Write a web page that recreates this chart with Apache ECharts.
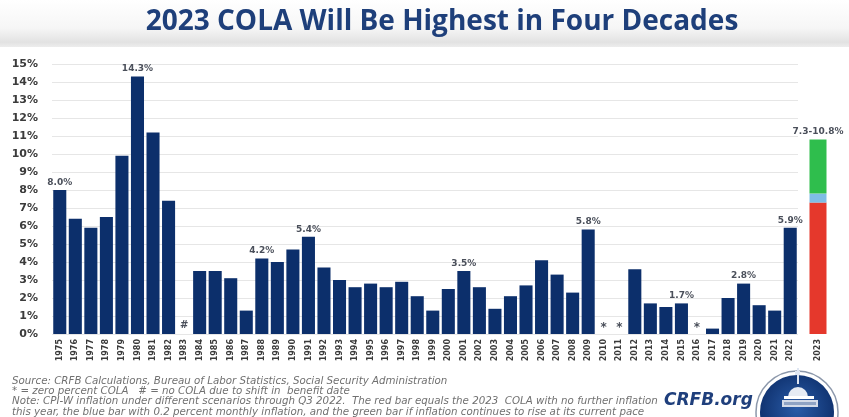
<!DOCTYPE html>
<html>
<head>
<meta charset="utf-8">
<script src="https://cdn.jsdelivr.net/npm/echarts@6/dist/echarts.min.js"></script>
<style>
  html, body { margin: 0; padding: 0; background: #fff; }
  #chart { width: 849px; height: 417px; }
</style>
</head>
<body>
<div id="chart"></div>
<script>
// Social Security cost-of-living adjustments, 1975-2022 (percent)
const years = [
  1975, 1976, 1977, 1978, 1979, 1980, 1981, 1982, 1983, 1984, 1985, 1986,
  1987, 1988, 1989, 1990, 1991, 1992, 1993, 1994, 1995, 1996, 1997, 1998,
  1999, 2000, 2001, 2002, 2003, 2004, 2005, 2006, 2007, 2008, 2009, 2010,
  2011, 2012, 2013, 2014, 2015, 2016, 2017, 2018, 2019, 2020, 2021, 2022
];
const cola = [
  8.0, 6.4, 5.9, 6.5, 9.9, 14.3, 11.2, 7.4, 0, 3.5, 3.5, 3.1,
  1.3, 4.2, 4.0, 4.7, 5.4, 3.7, 3.0, 2.6, 2.8, 2.6, 2.9, 2.1,
  1.3, 2.5, 3.5, 2.6, 1.4, 2.1, 2.7, 4.1, 3.3, 2.3, 5.8, 0,
  0, 3.6, 1.7, 1.5, 1.7, 0, 0.3, 2.0, 2.8, 1.6, 1.3, 5.9
];
// Years whose value is printed above the bar
const labelledYears = [1975, 1980, 1988, 1991, 2001, 2009, 2015, 2019, 2022];
// "#" = no COLA due to shift in benefit date, "*" = zero percent COLA
const noColaYears = [1983];
const zeroColaYears = [2010, 2011, 2016];

// 2023 projection: no further inflation / 0.2% monthly / current pace
const year2023 = ['2023'];
const cola2023Low = 7.3;
const cola2023Mid = 7.8;
const cola2023High = 10.8;

const yTicks = { min: 0, max: 15, step: 1 };

const NAVY = '#0c2f6b';
const LABEL_GREY = '#4a4f5a';

const colaData = years.map((yr, i) => {
  const item = { value: cola[i] };
  if (labelledYears.includes(yr)) {
    item.label = { show: true, formatter: cola[i].toFixed(1) + '%' };
  } else if (noColaYears.includes(yr)) {
    item.label = { show: true, formatter: '#', fontSize: 10, distance: 4 };
  } else if (zeroColaYears.includes(yr)) {
    item.label = { show: true, formatter: '*', fontSize: 12, distance: 0 };
  }
  return item;
});

const chart = echarts.init(document.getElementById('chart'), null, { renderer: 'canvas' });

const footerLines = [
  'Source: CRFB Calculations, Bureau of Labor Statistics, Social Security Administration',
  '* = zero percent COLA   # = no COLA due to shift in  benefit date',
  'Note: CPI-W inflation under different scenarios through Q3 2022.  The red bar equals the 2023  COLA with no further inflation',
  'this year, the blue bar with 0.2 percent monthly inflation, and the green bar if inflation continues to rise at its current pace'
];

// size the footer font so the source line spans its column
const FOOTER_FAMILY = '"DejaVu Sans", sans-serif';
const FOOTER_SPAN = 436;
const probe = document.createElement('canvas').getContext('2d');
probe.font = 'italic 10px ' + FOOTER_FAMILY;
const footerSize = Math.min(10.5, 10 * FOOTER_SPAN / probe.measureText(footerLines[0]).width);

const graphics = [
  // header band
  {
    type: 'rect', left: 0, top: 0, z: -10,
    shape: { width: 849, height: 47 },
    style: {
      fill: new echarts.graphic.LinearGradient(0, 0, 0, 1, [
        { offset: 0, color: '#ffffff' },
        { offset: 0.6, color: '#f6f6f6' },
        { offset: 0.9, color: '#e2e2e2' },
        { offset: 1, color: '#ededed' }
      ])
    }
  },
  {
    type: 'text', x: 442, y: 22,
    style: {
      text: '2023 COLA Will Be Highest in Four Decades',
      fill: '#1e3f7a',
      align: 'center', verticalAlign: 'middle',
      font: 'bold 28px "Open Sans", sans-serif'
    }
  }
];

footerLines.forEach((t, i) => {
  graphics.push({
    type: 'text', x: 12, y: 381 + i * 10.4,
    style: {
      text: t, fill: '#707070', verticalAlign: 'middle',
      font: 'italic ' + footerSize.toFixed(2) + 'px ' + FOOTER_FAMILY
    }
  });
});

graphics.push({
  type: 'text', x: 664, y: 401,
  style: {
    text: 'CRFB.org', fill: '#1f3f7c', verticalAlign: 'middle',
    font: 'italic bold 17px "DejaVu Sans", sans-serif'
  }
});

// round seal with the Capitol
const cx = 797, cy = 412;
graphics.push(
  { type: 'circle', shape: { cx, cy, r: 41 }, style: { fill: '#ffffff', stroke: '#8c98ab', lineWidth: 1.5 } },
  {
    type: 'circle', shape: { cx, cy, r: 37 },
    style: {
      fill: new echarts.graphic.RadialGradient(0.5, 0.45, 0.6, [
        { offset: 0, color: '#2a5ca8' },
        { offset: 1, color: '#0b2b66' }
      ])
    }
  },
  { type: 'rect', shape: { x: 797, y: 368, width: 2, height: 16 }, style: { fill: '#dfe6f2' } },
  { type: 'rect', shape: { x: 795, y: 371, width: 5, height: 4 }, style: { fill: '#dfe6f2' } },
  { type: 'sector', shape: { cx: 798, cy: 397, r: 10, startAngle: Math.PI, endAngle: 2 * Math.PI }, style: { fill: '#e6ebf3' } },
  { type: 'rect', shape: { x: 784, y: 396, width: 30, height: 3 }, style: { fill: '#ffffff' } },
  { type: 'rect', shape: { x: 782, y: 400, width: 36, height: 7 }, style: { fill: '#d4dbe8' } },
  { type: 'rect', shape: { x: 784, y: 402, width: 32, height: 3 }, style: { fill: '#8fa3c4' } }
);

const option = {
  animation: false,
  backgroundColor: '#ffffff',
  graphic: graphics,
  grid: [
    { left: 52, top: 64, width: 746, height: 270 },
    { left: 808, top: 64, width: 20, height: 270 }
  ],
  xAxis: [
    {
      type: 'category', gridIndex: 0, data: years.map(String),
      axisLine: { show: false }, axisTick: { show: false },
      axisLabel: {
        interval: 0, rotate: 90, margin: 5,
        fontSize: 8, fontWeight: 'bold', color: '#3a3a3a',
        fontFamily: '"DejaVu Sans", sans-serif'
      }
    },
    {
      type: 'category', gridIndex: 1, data: year2023,
      axisLine: { show: false }, axisTick: { show: false },
      axisLabel: {
        interval: 0, rotate: 90, margin: 5,
        fontSize: 8, fontWeight: 'bold', color: '#3a3a3a',
        fontFamily: '"DejaVu Sans", sans-serif'
      }
    }
  ],
  yAxis: [
    {
      type: 'value', gridIndex: 0, min: yTicks.min, max: yTicks.max, interval: yTicks.step,
      axisLine: { show: false }, axisTick: { show: false },
      axisLabel: {
        formatter: '{value}%', margin: 14,
        fontSize: 11, fontWeight: 'bold', color: '#3b3b3b',
        fontFamily: '"DejaVu Sans", sans-serif'
      },
      splitLine: { lineStyle: { color: '#e6e6e6', width: 1 } }
    },
    {
      type: 'value', gridIndex: 1, min: yTicks.min, max: yTicks.max, interval: yTicks.step,
      show: false, splitLine: { show: false }
    }
  ],
  series: [
    {
      name: 'COLA', type: 'bar', xAxisIndex: 0, yAxisIndex: 0,
      data: colaData,
      barCategoryGap: '16%',
      itemStyle: { color: NAVY },
      label: {
        show: false, position: 'top', distance: 3,
        fontSize: 9, fontWeight: 'bold', color: LABEL_GREY,
        fontFamily: '"DejaVu Sans", sans-serif'
      }
    },
    {
      name: 'No further inflation', type: 'bar', stack: 'p2023',
      xAxisIndex: 1, yAxisIndex: 1, barWidth: 17,
      data: [cola2023Low],
      itemStyle: { color: '#e5382c' }
    },
    {
      name: '0.2% monthly inflation', type: 'bar', stack: 'p2023',
      xAxisIndex: 1, yAxisIndex: 1, barWidth: 17,
      data: [+(cola2023Mid - cola2023Low).toFixed(1)],
      itemStyle: { color: '#7fbde6' }
    },
    {
      name: 'Current pace', type: 'bar', stack: 'p2023',
      xAxisIndex: 1, yAxisIndex: 1, barWidth: 17,
      data: [+(cola2023High - cola2023Mid).toFixed(1)],
      itemStyle: { color: '#2fbe4d' },
      label: {
        show: true, position: 'top', distance: 3,
        formatter: cola2023Low.toFixed(1) + '-' + cola2023High.toFixed(1) + '%',
        fontSize: 9, fontWeight: 'bold', color: LABEL_GREY,
        fontFamily: '"DejaVu Sans", sans-serif'
      }
    }
  ]
};

chart.setOption(option);
</script>
</body>
</html>
